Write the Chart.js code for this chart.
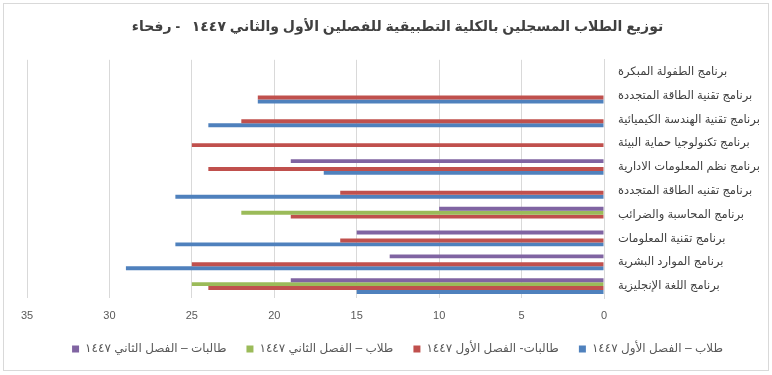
<!DOCTYPE html>
<html>
<head>
<meta charset="utf-8">
<script src="https://cdn.jsdelivr.net/npm/chart.js@4/dist/chart.umd.min.js"></script>
<style>
    body { margin: 0; background: #fff; }
    #wrap { position: relative; width: 772px; height: 375px; }
    #frame {
        position: absolute; left: 3px; top: 3px; width: 766px; height: 368px;
        box-sizing: border-box; border: 1px solid #d9d9d9; pointer-events: none;
    }
</style>
</head>
<body>
<div id="wrap">
    <canvas id="enrollChart" width="772" height="375" dir="rtl"></canvas>
    <div id="frame"></div>
</div>
<script>
// Programs, top to bottom as shown
const programs = [
    'برنامج الطفولة المبكرة',
    'برنامج تقنية الطاقة المتجددة',
    'برنامج تقنية الهندسة الكيميائية',
    'برنامج تكنولوجيا حماية البيئة',
    'برنامج نظم المعلومات الادارية',
    'برنامج تقنيه الطاقة المتجددة',
    'برنامج المحاسبة والضرائب',
    'برنامج تقنية المعلومات',
    'برنامج الموارد البشرية',
    'برنامج اللغة الإنجليزية'
];

// Series values (same order as programs)
const maleTerm1   = [0, 21, 24, 0, 17, 26, 0, 26, 29, 15];
const femaleTerm1 = [0, 21, 22, 25, 24, 16, 19, 16, 25, 24];
const maleTerm2   = [0, 0, 0, 0, 0, 0, 22, 0, 0, 25];
const femaleTerm2 = [0, 0, 0, 0, 19, 0, 10, 15, 13, 19];

const seriesNames = [
    'طلاب – الفصل الأول ١٤٤٧',
    'طالبات- الفصل الأول ١٤٤٧',
    'طلاب – الفصل الثاني ١٤٤٧',
    'طالبات – الفصل الثاني ١٤٤٧'
];

const xTicks = [0, 5, 10, 15, 20, 25, 30, 35];

const titleText = 'توزيع الطلاب المسجلين بالكلية التطبيقية للفصلين الأول والثاني ١٤٤٧   - رفحاء';

const fontFamily = "'Liberation Sans', 'DejaVu Sans', sans-serif";

// Office palette
const blue = '#4F81BD';
const red = '#C0504D';
const green = '#9BBB59';
const purple = '#8064A2';

// Datasets listed top-to-bottom inside each group (also left-to-right in legend)
const ctx = document.getElementById('enrollChart');
new Chart(ctx, {
    type: 'bar',
    data: {
        labels: programs,
        datasets: [
            { label: seriesNames[3], data: femaleTerm2, backgroundColor: purple },
            { label: seriesNames[2], data: maleTerm2, backgroundColor: green },
            { label: seriesNames[1], data: femaleTerm1, backgroundColor: red },
            { label: seriesNames[0], data: maleTerm1, backgroundColor: blue }
        ]
    },
    options: {
        indexAxis: 'y',
        responsive: false,
        animation: false,
        categoryPercentage: 0.66,
        barPercentage: 1,
        layout: {
            padding: { left: 27, right: 4, top: 13, bottom: 10 }
        },
        plugins: {
            title: {
                display: true,
                text: titleText,
                color: '#404040',
                font: { family: fontFamily, size: 14, weight: 'bold' },
                padding: { top: 6, bottom: 24 }
            },
            legend: {
                position: 'bottom',
                labels: {
                    color: '#595959',
                    boxWidth: 7,
                    boxHeight: 7,
                    padding: 20,
                    font: { family: fontFamily, size: 12 }
                }
            },
            tooltip: { enabled: false }
        },
        scales: {
            x: {
                reverse: true,
                min: 0,
                max: 35,
                afterBuildTicks: function (scale) {
                    scale.ticks = xTicks.map(v => ({ value: v }));
                },
                afterFit: function (scale) { scale.height = 25; },
                ticks: {
                    color: '#595959',
                    padding: 11,
                    font: { family: fontFamily, size: 11 }
                },
                grid: { color: '#d9d9d9', drawTicks: false },
                border: { display: false }
            },
            y: {
                position: 'right',
                afterFit: function (scale) { scale.width = 164; },
                ticks: {
                    color: '#404040',
                    padding: 14,
                    font: { family: fontFamily, size: 11.5 }
                },
                grid: { display: false, drawTicks: false },
                border: { display: true, color: '#d9d9d9' }
            }
        }
    }
});
</script>
</body>
</html>
